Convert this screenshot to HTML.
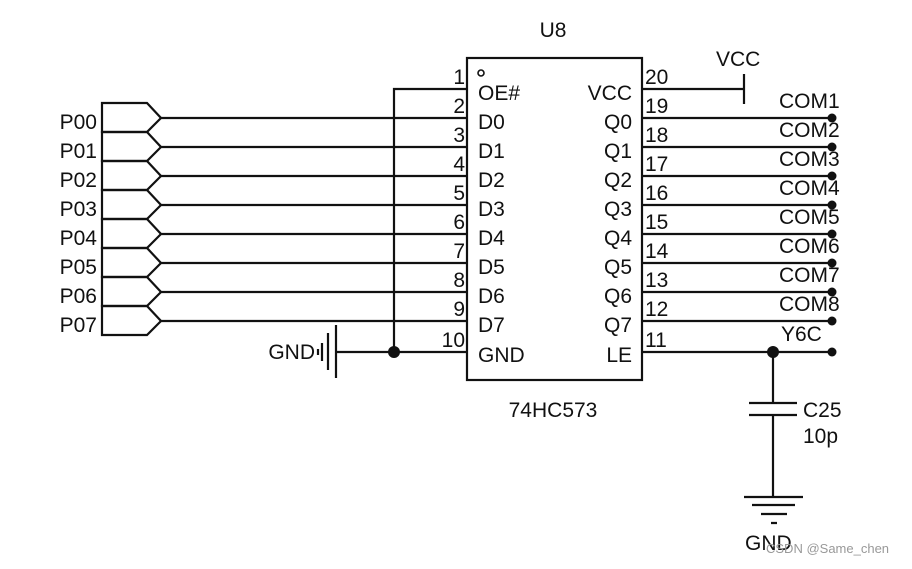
<!DOCTYPE html>
<html><head><style>
body{margin:0;background:#fff}
svg text{font-family:"Liberation Sans",sans-serif;fill:#111}
</style></head><body>
<svg width="912" height="564" xmlns="http://www.w3.org/2000/svg">
<g stroke="#111" stroke-width="2.2" fill="none">
<rect x="467" y="58" width="175" height="322"/>
<circle cx="481" cy="73" r="3" stroke-width="1.6"/>
<path d="M102,103 H147 L161,118 L147,132 H102 Z"/>
<path d="M102,132 H147 L161,147 L147,161 H102 Z"/>
<path d="M102,161 H147 L161,176 L147,190 H102 Z"/>
<path d="M102,190 H147 L161,205 L147,219 H102 Z"/>
<path d="M102,219 H147 L161,234 L147,248 H102 Z"/>
<path d="M102,248 H147 L161,263 L147,277 H102 Z"/>
<path d="M102,277 H147 L161,292 L147,306 H102 Z"/>
<path d="M102,306 H147 L161,321 L147,335 H102 Z"/>
<path d="M161,118H467M161,147H467M161,176H467M161,205H467M161,234H467M161,263H467M161,292H467M161,321H467"/>
<path d="M467,89H394V352"/>
<path d="M336,352H467"/>
<path d="M336,325V378M328,333V370M322,343V361M318,349V355"/>
<path d="M642,89H744M744,74V104"/>
<path d="M642,118H832M642,147H832M642,176H832M642,205H832M642,234H832M642,263H832M642,292H832M642,321H832M642,352H832"/>
<path d="M773,352V403M749,403H797M749,415H797M773,415V497"/>
<path d="M744,497H803M752,505H795M761,514H787M771,523H777"/>
</g>
<g fill="#111">
<circle cx="394" cy="352" r="6"/>
<circle cx="773" cy="352" r="6"/>
<circle cx="832" cy="118" r="4.5"/><circle cx="832" cy="147" r="4.5"/><circle cx="832" cy="176" r="4.5"/><circle cx="832" cy="205" r="4.5"/><circle cx="832" cy="234" r="4.5"/><circle cx="832" cy="263" r="4.5"/><circle cx="832" cy="292" r="4.5"/><circle cx="832" cy="321" r="4.5"/><circle cx="832" cy="352" r="4.5"/>
</g>
<g font-size="21">
<text x="553" y="37" text-anchor="middle">U8</text>
<text x="553" y="417" text-anchor="middle">74HC573</text>
<g text-anchor="end">
<text x="97" y="129">P00</text><text x="97" y="158">P01</text><text x="97" y="187">P02</text><text x="97" y="216">P03</text><text x="97" y="245">P04</text><text x="97" y="274">P05</text><text x="97" y="303">P06</text><text x="97" y="332">P07</text>
<text x="315" y="359">GND</text>
<text x="465" y="84">1</text><text x="465" y="113">2</text><text x="465" y="142">3</text><text x="465" y="171">4</text><text x="465" y="200">5</text><text x="465" y="229">6</text><text x="465" y="258">7</text><text x="465" y="287">8</text><text x="465" y="316">9</text><text x="465" y="347">10</text>
<text x="632" y="100">VCC</text><text x="632" y="129">Q0</text><text x="632" y="158">Q1</text><text x="632" y="187">Q2</text><text x="632" y="216">Q3</text><text x="632" y="245">Q4</text><text x="632" y="274">Q5</text><text x="632" y="303">Q6</text><text x="632" y="332">Q7</text><text x="632" y="362">LE</text>
</g>
<text x="478" y="100">OE#</text><text x="478" y="129">D0</text><text x="478" y="158">D1</text><text x="478" y="187">D2</text><text x="478" y="216">D3</text><text x="478" y="245">D4</text><text x="478" y="274">D5</text><text x="478" y="303">D6</text><text x="478" y="332">D7</text><text x="478" y="362">GND</text>
<text x="645" y="84">20</text><text x="645" y="113">19</text><text x="645" y="142">18</text><text x="645" y="171">17</text><text x="645" y="200">16</text><text x="645" y="229">15</text><text x="645" y="258">14</text><text x="645" y="287">13</text><text x="645" y="316">12</text><text x="645" y="347">11</text>
<text x="716" y="66">VCC</text>
<text x="779" y="108">COM1</text><text x="779" y="137">COM2</text><text x="779" y="166">COM3</text><text x="779" y="195">COM4</text><text x="779" y="224">COM5</text><text x="779" y="253">COM6</text><text x="779" y="282">COM7</text><text x="779" y="311">COM8</text><text x="781" y="341">Y6C</text>
<text x="803" y="417">C25</text><text x="803" y="443">10p</text>
<text x="745" y="550">GND</text>
</g>
<text x="766" y="553" font-size="13" style="fill:#999">CSDN @Same_chen</text>
</svg>
</body></html>
